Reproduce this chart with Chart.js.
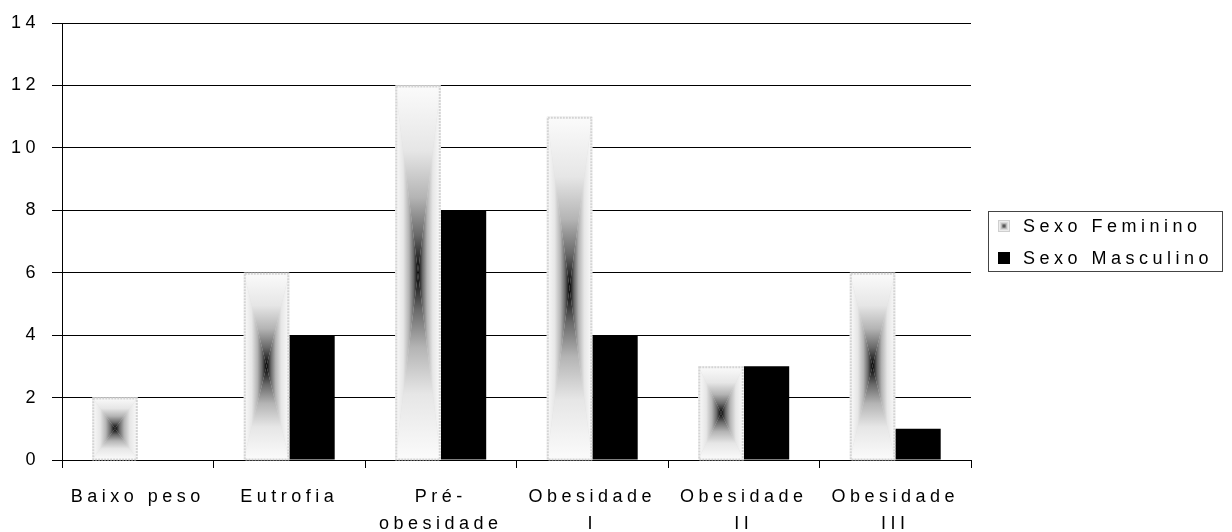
<!DOCTYPE html>
<html>
<head>
<meta charset="utf-8">
<script src="https://cdn.jsdelivr.net/npm/chart.js@4"></script>
<style>
  html, body { margin: 0; padding: 0; background: #fff; }
  #wrap { width: 1232px; height: 532px; }
</style>
</head>
<body>
<div id="wrap"><canvas id="myChart" width="1232" height="532"></canvas></div>
<script>
const categories = [['Baixo peso'], ['Eutrofia'], ['Pré-', 'obesidade'], ['Obesidade', 'I'], ['Obesidade', 'II'], ['Obesidade', 'III']];
const feminino = [2, 6, 12, 11, 3, 6];
const masculino = [0, 4, 8, 4, 3, 1];
const seriesNames = ['Sexo Feminino', 'Sexo Masculino'];
const yMin = 0, yMax = 14, yStep = 2;

const FONT = "'Liberation Sans', Arial, sans-serif";
const SPACING = '4.5px';
const SIZE = 18;

// edge -> center ramp of the "from center" fill
const ramp = [[0, '#fbfbfb'], [0.35, '#e6e6e6'], [0.6, '#b4b4b4'], [0.8, '#6a6a6a'], [1, '#000000']];

let fillFromCenter = (ctx, left, top, right, bottom) => {
  const cx = (left + right) / 2, cy = (top + bottom) / 2;
  ctx.save();
  ctx.fillStyle = '#e0e0e0';
  ctx.fillRect(left, top, right - left, bottom - top);
  let tri = (ax, ay, bx, by, gx, gy) => {
    let g = ctx.createLinearGradient(gx, gy, cx, cy);
    ramp.forEach(s => g.addColorStop(s[0], s[1]));
    ctx.fillStyle = g;
    ctx.beginPath();
    ctx.moveTo(ax, ay);
    ctx.lineTo(bx, by);
    ctx.lineTo(cx, cy);
    ctx.closePath();
    ctx.fill();
  };
  tri(left, top, right, top, cx, top);
  tri(left, bottom, right, bottom, cx, bottom);
  tri(left, top, left, bottom, left, cy);
  tri(right, top, right, bottom, right, cy);
  ctx.restore();
};

let dashedBorder = (ctx, left, top, right, bottom) => {
  ctx.save();
  ctx.strokeStyle = '#d4d4d4';
  ctx.lineWidth = 2;
  ctx.setLineDash([2, 1]);
  ctx.strokeRect(left, top, right - left, bottom - top);
  ctx.restore();
};

const spacingPlugin = {
  id: 'spacing',
  beforeUpdate(c) { c.ctx.letterSpacing = SPACING; },
  beforeDraw(c) { c.ctx.letterSpacing = SPACING; }
};

const femininoFill = {
  id: 'femininoFill',
  afterDatasetsDraw(c) {
    const ctx = c.ctx;
    c.getDatasetMeta(0).data.forEach(bar => {
      const p = bar.getProps(['x', 'y', 'base', 'width'], true);
      if (p.base - p.y < 1) return;
      const left = p.x - p.width / 2, right = p.x + p.width / 2;
      fillFromCenter(ctx, left, p.y, right, p.base);
      dashedBorder(ctx, left + 1, p.y + 1, right - 1, p.base);
    });
  }
};

const boxLegend = {
  id: 'boxLegend',
  afterDraw(c) {
    const ctx = c.ctx;
    ctx.save();
    ctx.strokeStyle = '#444';
    ctx.lineWidth = 1;
    ctx.strokeRect(988.5, 211.5, 234, 60);
    // swatches
    fillFromCenter(ctx, 998, 220, 1010, 232);
    ctx.strokeStyle = '#cfcfcf';
    ctx.strokeRect(998.5, 220.5, 11, 11);
    ctx.fillStyle = '#000';
    ctx.fillRect(998, 252, 12, 12);
    ctx.letterSpacing = SPACING;
    ctx.font = SIZE + 'px ' + FONT;
    ctx.textBaseline = 'middle';
    ctx.textAlign = 'left';
    ctx.fillStyle = '#000';
    ctx.fillText(seriesNames[0], 1023, 227);
    ctx.fillText(seriesNames[1], 1023, 259);
    ctx.restore();
  }
};

const chartSelect = document.getElementById('myChart');

new Chart(chartSelect, {
  type: 'bar',
  data: {
    labels: categories,
    datasets: [{
      label: seriesNames[0],
      data: feminino,
      backgroundColor: 'rgba(0,0,0,0)',
      borderWidth: 0,
      categoryPercentage: 0.6,
      barPercentage: 1
    }, {
      label: seriesNames[1],
      data: masculino,
      backgroundColor: '#000',
      borderWidth: 0,
      categoryPercentage: 0.6,
      barPercentage: 1
    }]
  },
  options: {
    responsive: false,
    animation: false,
    events: [],
    layout: { padding: { left: 0, top: 23, right: 261, bottom: 0 } },
    plugins: {
      legend: { display: false },
      tooltip: { enabled: false }
    },
    scales: {
      x: {
        afterFit: (scale) => { scale.height = 72; },
        grid: { display: true, drawOnChartArea: false, drawTicks: true, tickLength: 8, color: '#000', lineWidth: 1 },
        border: { display: true, color: '#000', width: 1 },
        ticks: {
          color: '#000',
          padding: 16,
          maxRotation: 0,
          autoSkip: false,
          font: { family: FONT, size: SIZE, lineHeight: 1.5 }
        }
      },
      y: {
        min: yMin,
        max: yMax,
        afterFit: (scale) => { scale.width = 62; },
        grid: { color: '#000', lineWidth: 1, drawTicks: true, tickLength: 10 },
        border: { display: true, color: '#000', width: 1 },
        ticks: {
          stepSize: yStep,
          color: '#000',
          padding: 12,
          font: { family: FONT, size: SIZE }
        }
      }
    }
  },
  plugins: [spacingPlugin, femininoFill, boxLegend]
});
</script>
</body>
</html>
